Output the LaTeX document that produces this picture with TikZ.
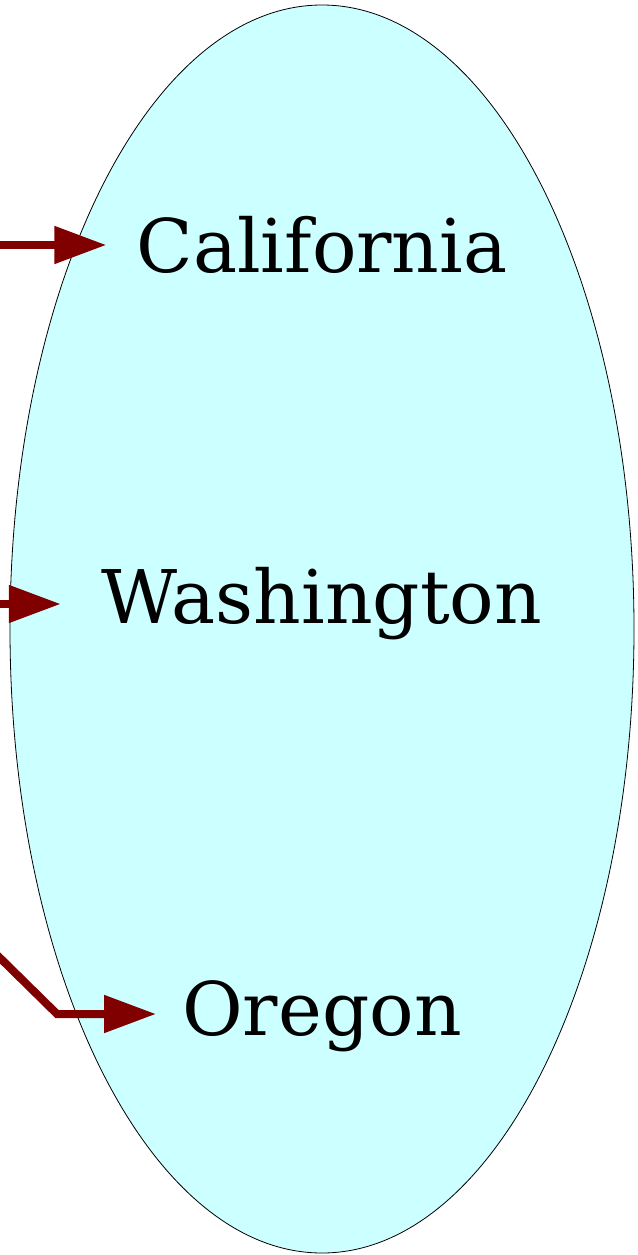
\documentclass[tikz,border=0pt]{standalone}
\usepackage{fontspec}
\setmainfont{DejaVu Serif}
\usetikzlibrary{shapes.geometric,arrows.meta}
\definecolor{edgered}{HTML}{800000}
\definecolor{cyanfill}{HTML}{CCFFFF}
\tikzset{
  statelabel/.style={inner sep=0pt, font=\fontsize{74}{80}\selectfont, anchor=center},
  link/.style={draw=edgered, line width=8pt, -{Triangle[length=52pt,width=36pt]}, line join=miter},
}
\begin{document}
\begin{tikzpicture}[x=1pt,y=-1pt]
\useasboundingbox (0,0) rectangle (637,1255);
\node[ellipse, draw=black, line width=0.8pt, fill=cyanfill, minimum width=624pt, minimum height=1248pt, inner sep=0pt] (cluster) at (322,629) {};
\node[statelabel] (cal) at (322,245) {California};
\node[statelabel] (wa) at (322,604) {Washington};
\node[statelabel] (or) at (322,1016) {Oregon};
\coordinate (s1) at (-5,245);
\coordinate (s2) at (-5,604);
\coordinate (s3) at (-5,953);
\coordinate (bend) at (57,1014);
\draw[link] (s1) -- ([xshift=-30pt]cal.west |- s1);
\draw[link] (s2) -- ([xshift=-41pt]wa.west |- s2);
\draw[link] (s3) -- (bend) -- ([xshift=-26pt]or.west |- bend);
\end{tikzpicture}
\end{document}
